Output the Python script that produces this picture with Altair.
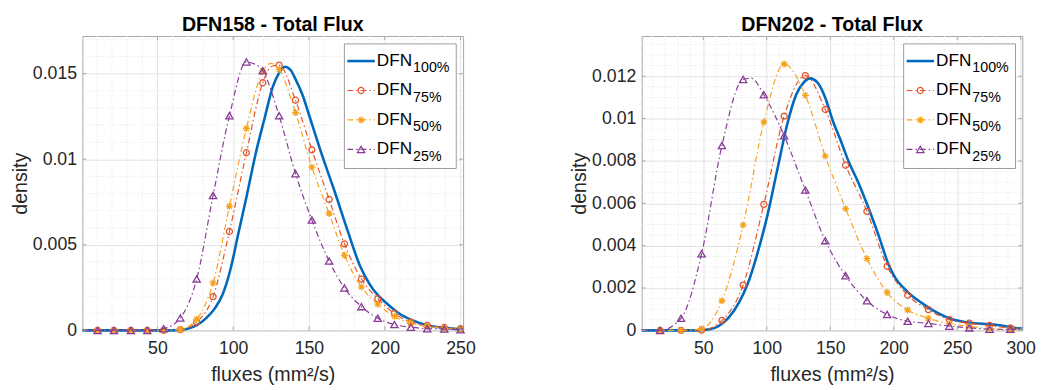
import altair as alt
import pandas as pd

FONT = "Liberation Sans"
TXT = "#262626"
FRAME = "#a6a6a6"
GRID = "#e2e2e2"
MINOR = "#e6e6e6"

SERIES = ["100%", "75%", "50%", "25%"]
COLORS = {"100%": "#0068bd", "75%": "#e3532a", "50%": "#f7a21b", "25%": "#873a96"}

# ---------------- DFN158 (left) ----------------
L_TITLE = "DFN158 - Total Flux"
L_XDOM = [0.5, 251.7]
L_YDOM = [0.0, 0.0172]
L_XTICKS = [50, 100, 150, 200, 250]
L_YTICKS = [0, 0.005, 0.01, 0.015]
L_XMINOR = [10, 20, 30, 40, 60, 70, 80, 90, 110, 120, 130, 140, 160, 170, 180, 190, 210, 220, 230, 240]
L_YMINOR = [0.001, 0.002, 0.003, 0.004, 0.006, 0.007, 0.008, 0.009, 0.011, 0.012, 0.013, 0.014, 0.016, 0.017]

L_MX = [10.5, 21.3, 32.5, 43.3, 54.1, 65.1, 75.9, 86.7, 97.5, 108.7, 119.5, 130.3,
        141.1, 151.9, 163.3, 173.4, 184.6, 195.4, 206.4, 217.2, 228.0, 239.3, 250.0]
L_75 = [0, 0, 0, 0, 0, 0.00004, 0.00048, 0.00197, 0.00578, 0.01038, 0.01447, 0.0155,
        0.01345, 0.01055, 0.00765, 0.00506, 0.0030, 0.00185, 0.00099, 0.00048, 0.00029, 0.00017, 0.0001]
L_50 = [0, 0, 0, 0, 0.00001, 0.00006, 0.00065, 0.00277, 0.00725, 0.0118, 0.01517, 0.01525,
        0.01273, 0.00954, 0.00683, 0.00439, 0.00254, 0.00153, 0.00082, 0.00042, 0.00023, 0.00013, 0.00006]
L_25 = [0, 0, 0, 0, 0.0001, 0.00073, 0.0030, 0.00788, 0.01254, 0.01569, 0.01517, 0.01254,
        0.00916, 0.00645, 0.00405, 0.00248, 0.00139, 0.00071, 0.00034, 0.00019, 0.0001, 0.00008, 0.00004]
# extra curve points between markers (peaks / ends)
L_EXTRA = {
    "75%": ([0.5, 126.0, 251.7], [0, 0.01545, 0.00009]),
    "50%": ([0.5, 125.0, 251.7], [0, 0.0156, 0.00005]),
    "25%": ([0.5, 113.0, 251.7], [0, 0.0156, 0.00004]),
}
L_100_X = [0.5, 60, 70, 76, 82, 88, 93, 98, 103.5, 109, 115, 121, 126, 130, 134, 138, 141, 146,
           150, 158, 167, 175.6, 184, 190, 195, 201, 210, 218, 228, 239, 250, 251.7]
L_100_Y = [0, 0, 0.0001, 0.0003, 0.0007, 0.0013, 0.0021, 0.0035, 0.0057, 0.0079, 0.0104, 0.0125,
           0.0142, 0.0150, 0.0154, 0.0152, 0.0147, 0.0137, 0.0126, 0.0104, 0.0081, 0.0058, 0.0037,
           0.0027, 0.0021, 0.0016, 0.00096, 0.0006, 0.0003, 0.00015, 0.00007, 0.00006]

# ---------------- DFN202 (right) ----------------
R_TITLE = "DFN202 - Total Flux"
R_XDOM = [1.5, 301.3]
R_YDOM = [0.0, 0.0139]
R_XTICKS = [50, 100, 150, 200, 250, 300]
R_YTICKS = [0, 0.002, 0.004, 0.006, 0.008, 0.01, 0.012]
R_XMINOR = [10, 20, 30, 40, 60, 70, 80, 90, 110, 120, 130, 140, 160, 170, 180, 190,
            210, 220, 230, 240, 260, 270, 280, 290]
R_YMINOR = [0.0005, 0.001, 0.0015, 0.0025, 0.003, 0.0035, 0.0045, 0.005, 0.0055, 0.0065, 0.007,
            0.0075, 0.0085, 0.009, 0.0095, 0.0105, 0.011, 0.0115, 0.0125, 0.013, 0.0135]

R_MX = [16.0, 32.5, 48.7, 64.7, 81.4, 97.7, 113.7, 130.4, 146.1, 162.1, 178.9, 194.8,
        211.0, 227.3, 243.8, 259.5, 275.5, 291.8]
R_75 = [0, 0, 0.00001, 0.00047, 0.00214, 0.00595, 0.01012, 0.01203, 0.01043, 0.0078, 0.00562,
        0.00303, 0.00166, 0.00098, 0.00051, 0.00034, 0.00023, 0.00012]
R_50 = [0, 0, 0.00008, 0.0014, 0.00497, 0.00983, 0.01258, 0.0111, 0.00823, 0.00575, 0.00339,
        0.00179, 0.00096, 0.00057, 0.00031, 0.00019, 0.00008, 0.00003]
R_25 = [0, 0.00057, 0.00362, 0.00873, 0.01185, 0.01113, 0.00919, 0.00663, 0.00424, 0.00258,
        0.0014, 0.00075, 0.00043, 0.00033, 0.0002, 0.00012, 0.00006, 0.00005]
R_EXTRA = {
    "75%": ([1.5, 301.3], [0, 0.0001]),
    "50%": ([1.5, 301.3], [0, 0.00002]),
    "25%": ([1.5, 88.0, 301.3], [0, 0.0119, 0.00004]),
}
R_100_X = [1.5, 45, 55, 62, 70, 78, 85, 92, 100, 108, 116, 123, 129, 134, 140, 146, 152, 158,
           165, 172, 180, 188, 196, 202, 208, 215, 222, 230, 238, 245, 252, 260, 270, 280, 288, 295, 301.3]
R_100_Y = [0, 0, 0.00005, 0.0002, 0.0006, 0.0013, 0.0022, 0.0035, 0.0053, 0.0075, 0.0097, 0.0111,
           0.0117, 0.0119, 0.0117, 0.0110, 0.0099, 0.0090, 0.0079, 0.0070, 0.0058, 0.0045, 0.0031,
           0.0024, 0.0020, 0.0016, 0.0013, 0.00098, 0.00072, 0.00055, 0.00044, 0.00036, 0.00031,
           0.00027, 0.0002, 0.00012, 0.0001]

W, H = 388, 300
DASH = [6, 3, 1.5, 3]
ASTERISK = "M-1,0L1,0M0,-1L0,1M-0.72,-0.72L0.72,0.72M-0.72,0.72L0.72,-0.72"
SHAPES = {"75%": ("circle", 38), "50%": (ASTERISK, 50), "25%": ("triangle-up", 55)}


def panel(title, xdom, ydom, xticks, yticks, xminor, yminor, mx, s75, s50, s25, extra, bx, by):
    xs = alt.Scale(domain=xdom, nice=False, zero=False)
    ys = alt.Scale(domain=ydom, nice=False, zero=False)
    xaxis = alt.Axis(values=xticks, title="fluxes (mm²/s)", grid=True, gridColor=GRID,
                     tickSize=0, domain=False, labelFont=FONT, labelFontSize=18,
                     labelColor=TXT, labelPadding=10, labelFlush=False, labelOverlap=False,
                     titleFont=FONT, titleFontSize=20, titleFontWeight="normal",
                     titleColor=TXT, titlePadding=7)
    yaxis = alt.Axis(values=yticks, title="density", format="~g", grid=True, gridColor=GRID,
                     tickSize=0, domain=False, labelFont=FONT, labelFontSize=18,
                     labelColor=TXT, labelPadding=6, labelOverlap=False, labelFlush=False,
                     titleFont=FONT, titleFontSize=20, titleFontWeight="normal",
                     titleColor=TXT, titlePadding=2)

    def X(f):
        return alt.X(f, scale=xs, axis=xaxis)

    def Y(f):
        return alt.Y(f, scale=ys, axis=yaxis)

    layers = []
    # minor grid (dotted)
    layers.append(alt.Chart(pd.DataFrame({"v": yminor})).mark_rule(
        color=MINOR, strokeDash=[1, 2], strokeWidth=1)
        .encode(y=Y("v:Q"), x=alt.value(0), x2=alt.value(W)))
    layers.append(alt.Chart(pd.DataFrame({"v": xminor})).mark_rule(
        color=MINOR, strokeDash=[1, 2], strokeWidth=1)
        .encode(x=X("v:Q"), y=alt.value(0), y2=alt.value(H)))
    # blue solid curve
    dfb = pd.DataFrame({"v": bx, "w": by})
    layers.append(alt.Chart(dfb).mark_line(color=COLORS["100%"], strokeWidth=2.6,
                                           interpolate="monotone")
                  .encode(x=X("v:Q"), y=Y("w:Q")))
    # dash-dot series
    for name, vals in (("75%", s75), ("50%", s50), ("25%", s25)):
        ex, ey = extra[name]
        dfl = pd.DataFrame({"v": list(mx) + list(ex), "w": list(vals) + list(ey)}).sort_values("v")
        layers.append(alt.Chart(dfl).mark_line(color=COLORS[name], strokeWidth=1.2,
                                               strokeDash=DASH, interpolate="monotone")
                      .encode(x=X("v:Q"), y=Y("w:Q")))
        shape, size = SHAPES[name]
        dfm = pd.DataFrame({"v": mx, "w": vals})
        layers.append(alt.Chart(dfm).mark_point(shape=shape, size=size, filled=False,
                                                color=COLORS[name], strokeWidth=1.3, opacity=1)
                      .encode(x=X("v:Q"), y=Y("w:Q")))
    # inward ticks on all four sides
    tx = pd.DataFrame({"v": xticks})
    ty = pd.DataFrame({"v": yticks})
    for y0, y1 in ((H, H - 4), (0, 4)):
        layers.append(alt.Chart(tx).mark_rule(color=FRAME, strokeWidth=1)
                      .encode(x=X("v:Q"), y=alt.value(y0), y2=alt.value(y1)))
    for x0, x1 in ((0, 4), (W, W - 4)):
        layers.append(alt.Chart(ty).mark_rule(color=FRAME, strokeWidth=1)
                      .encode(y=Y("v:Q"), x=alt.value(x0), x2=alt.value(x1)))
    # legend
    one = pd.DataFrame({"k": [0]})
    bx0, bx1, by0, by1 = 267, 381, 8, 135
    layers.append(alt.Chart(one).mark_rect(fill="white", stroke="#9a9a9a", strokeWidth=1)
                  .encode(x=alt.value(bx0), x2=alt.value(bx1), y=alt.value(by0), y2=alt.value(by1)))
    for i, name in enumerate(SERIES):
        ly = 25.5 + 30 * i
        if name == "100%":
            layers.append(alt.Chart(one).mark_rule(color=COLORS[name], strokeWidth=2.6)
                          .encode(x=alt.value(270), x2=alt.value(298), y=alt.value(ly)))
        else:
            layers.append(alt.Chart(one).mark_rule(color=COLORS[name], strokeWidth=1.2,
                                                   strokeDash=DASH)
                          .encode(x=alt.value(270), x2=alt.value(298), y=alt.value(ly)))
            shape, size = SHAPES[name]
            layers.append(alt.Chart(one).mark_point(shape=shape, size=size, filled=False,
                                                    color=COLORS[name], strokeWidth=1.3, opacity=1)
                          .encode(x=alt.value(284), y=alt.value(ly)))
        layers.append(alt.Chart(one).mark_text(text="DFN", font=FONT, fontSize=17.5, color="black",
                                               align="left", baseline="alphabetic")
                      .encode(x=alt.value(300), y=alt.value(ly + 5)))
        layers.append(alt.Chart(one).mark_text(text=name, font=FONT, fontSize=14.5, color="black",
                                               align="left", baseline="alphabetic")
                      .encode(x=alt.value(337), y=alt.value(ly + 11.5)))
    return alt.layer(*layers).properties(
        width=W, height=H,
        title=alt.TitleParams(title, font=FONT, fontSize=20, fontWeight="bold", color="black",
                              anchor="middle", offset=1))


left = panel(L_TITLE, L_XDOM, L_YDOM, L_XTICKS, L_YTICKS, L_XMINOR, L_YMINOR,
             L_MX, L_75, L_50, L_25, L_EXTRA, L_100_X, L_100_Y)
right = panel(R_TITLE, R_XDOM, R_YDOM, R_XTICKS, R_YTICKS, R_XMINOR, R_YMINOR,
              R_MX, R_75, R_50, R_25, R_EXTRA, R_100_X, R_100_Y)

chart = alt.hconcat(left, right, spacing=95).properties(
    padding={"left": 10, "top": 11, "right": 5, "bottom": 0},
    background="white",
).configure_view(stroke=FRAME, strokeWidth=1)

chart.save("out.html", embed_options={"renderer": "svg", "actions": False})
